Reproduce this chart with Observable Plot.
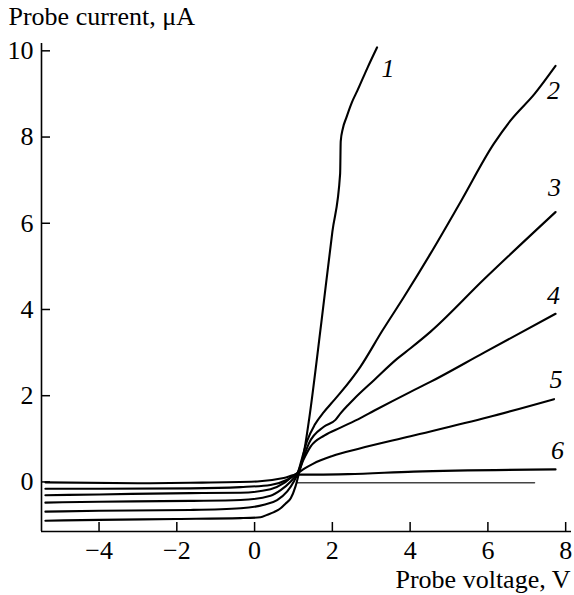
<!DOCTYPE html>
<html><head><meta charset="utf-8">
<script src="https://cdn.jsdelivr.net/npm/d3@7"></script>
<script src="https://cdn.jsdelivr.net/npm/@observablehq/plot@0.6"></script>
<style>body{margin:0;background:#fff} svg, svg text{font-family:'Liberation Serif','Times New Roman',serif !important; font-variant:normal !important}</style>
</head><body><div id="chart"></div>
<script>
// Curve names
const curveNames = ["1", "2", "3", "4", "5", "6"];

// Probe voltage (V) / probe current (μA) for each curve
const v1 = [-5.38, -4, -2, -0.36, 0.15, 0.33, 0.5, 0.67, 0.8, 0.93, 1.05, 1.14, 1.23, 1.31, 1.4, 1.71, 2.0, 2.2, 2.215, 2.27, 2.36, 2.5, 2.64, 2.9, 3.15];
const i1 = [-0.9, -0.88, -0.86, -0.84, -0.82, -0.76, -0.7, -0.61, -0.5, -0.38, -0.11, 0.2, 0.51, 0.9, 1.44, 3.65, 5.8, 7.15, 7.9, 8.2, 8.45, 8.8, 9.07, 9.6, 10.08];

const v2 = [-5.38, -4, -1.65, -0.36, 0.24, 0.58, 0.84, 1.01, 1.11, 1.22, 1.35, 1.55, 1.78, 2.0, 2.21, 2.72, 3.28, 3.84, 4.52, 5.3, 6.15, 6.58, 7.2, 7.74];
const i2 = [-0.69, -0.67, -0.65, -0.61, -0.53, -0.42, -0.22, 0.01, 0.2, 0.55, 0.95, 1.33, 1.62, 1.85, 2.07, 2.67, 3.5, 4.29, 5.29, 6.5, 7.84, 8.38, 9.0, 9.65];

const v3 = [-5.38, -4, -1.65, -0.36, 0.41, 0.67, 0.93, 1.1, 1.25, 1.4, 1.78, 2.08, 2.21, 2.4, 2.55, 3.07, 3.67, 4.01, 4.52, 5.9, 7.74];
const i3 = [-0.48, -0.46, -0.44, -0.42, -0.32, -0.19, 0.01, 0.2, 0.55, 0.9, 1.28, 1.44, 1.59, 1.78, 1.92, 2.36, 2.86, 3.1, 3.48, 4.7, 6.26];

const v4 = [-5.38, -4, -1.65, -0.36, 0.41, 0.75, 1.01, 1.12, 1.25, 1.44, 1.8, 2.21, 2.72, 3.07, 4.01, 4.52, 5.9, 7.74];
const i4 = [-0.31, -0.29, -0.26, -0.25, -0.17, -0.03, 0.16, 0.22, 0.5, 0.82, 1.08, 1.26, 1.48, 1.65, 2.09, 2.32, 3.0, 3.9];

const v5 = [-5.38, -4, -1.65, -0.36, 0.41, 0.84, 1.1, 1.3, 1.5, 2.0, 2.68, 4.01, 6.0, 7.7];
const i5 = [-0.16, -0.16, -0.15, -0.12, -0.07, 0.05, 0.2, 0.32, 0.42, 0.6, 0.77, 1.06, 1.5, 1.92];

const v6 = [-5.38, -3, -1.65, 0.07, 0.75, 1.1, 1.6, 2.4, 4.09, 7.74];
const i6 = [-0.01, -0.03, -0.02, 0.01, 0.09, 0.17, 0.17, 0.18, 0.24, 0.29];

// Zero reference line
const zeroV = [1.1, 7.2];
const zeroI = [-0.02, -0.02];

// Ticks and domains
const xTicks = [-4, -2, 0, 2, 4, 6, 8];
const yTicks = [0, 2, 4, 6, 8, 10];
const xDomain = [-5.48, 8.15];
const yDomain = [-1.15, 10.17];

const xTitle = "Probe voltage, V";
const yTitle = "Probe current, μA";

// ---- build tables ----
const series = [[v1, i1], [v2, i2], [v3, i3], [v4, i4], [v5, i5], [v6, i6]];
const rows = series.flatMap(([vs, is], k) => vs.map((v, j) => ({curve: curveNames[k], v, i: is[j]})));
const zeroRows = zeroV.map((v, j) => ({v, i: zeroI[j]}));
const ends = series.map(([vs, is], k) => ({curve: curveNames[k], v: vs[vs.length - 1], i: is[is.length - 1]}));

// label offsets (px) from each curve's end
const labelOffsets = [[11, 21], [-2, 25], [-1, -24], [-2, -18], [2, -19], [2, -19]];

const font = "'Liberation Serif', 'Times New Roman', serif";
const fs = 26;

const W = 574, H = 595, mL = 41, mR = 3, mT = 43, mB = 64;

const chart = Plot.plot({
  width: W, height: H,
  marginLeft: mL, marginRight: mR, marginTop: mT, marginBottom: mB,
  x: {domain: xDomain},
  y: {domain: yDomain},
  style: {fontFamily: font, fontSize: fs + "px", color: "#000", background: "#fff", overflow: "visible"},
  marks: [
    Plot.line(zeroRows, {x: "v", y: "i", stroke: "#444", strokeWidth: 1.4}),
    Plot.line(rows, {x: "v", y: "i", z: "curve", stroke: "#000", strokeWidth: 2.1, curve: "monotone-x"}),
    Plot.ruleX([xDomain[0]], {stroke: "#000", strokeWidth: 1.6}),
    Plot.ruleY([yDomain[0]], {stroke: "#000", strokeWidth: 1.6}),
    Plot.axisX({ticks: xTicks, tickSize: -9, tickPadding: 18, label: null, fontSize: fs, fontFamily: font, strokeWidth: 1.5, tickFormat: d => (d < 0 ? "\u2212" : "") + Math.abs(d)}),
    Plot.axisY({ticks: yTicks, tickSize: -9, tickPadding: 17, label: null, fontSize: fs, fontFamily: font, strokeWidth: 1.5}),
    ...ends.map((e, k) => Plot.text([e], {x: "v", y: "i", text: "curve", dx: labelOffsets[k][0], dy: labelOffsets[k][1], fontStyle: "italic", fontFamily: font, fontSize: fs, textAnchor: "middle", lineAnchor: "middle"})),
    Plot.text([yTitle], {frameAnchor: "top-left", text: d => d, dx: 8 - mL, dy: 6 - mT, textAnchor: "start", lineAnchor: "top", fontFamily: font, fontSize: fs}),
    Plot.text([xTitle], {frameAnchor: "bottom-right", text: d => d, dx: -1, dy: 38, textAnchor: "end", lineAnchor: "top", fontFamily: font, fontSize: fs})
  ]
});
document.getElementById("chart").appendChild(chart);
</script>
</body></html>
